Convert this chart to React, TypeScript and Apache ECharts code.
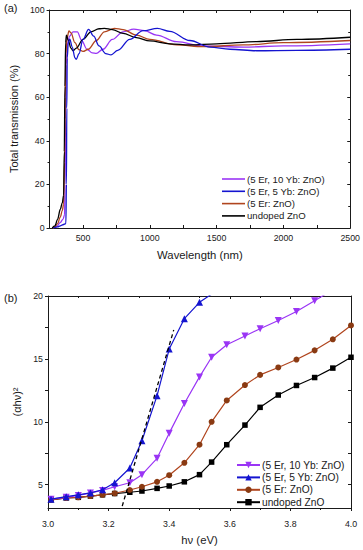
import React, { useEffect, useRef } from "react";
import * as echarts from "echarts";

const FONT = "'Liberation Sans', Arial, sans-serif";
const INK = "#1a1a1a";

const seriesNames = ["(5 Er, 10 Yb: ZnO)", "(5 Er, 5 Yb: ZnO)", "(5 Er: ZnO)", "undoped ZnO"];

// ---------- Panel (a): total transmission vs wavelength ----------
const wlUndoped = [270, 290, 310, 330, 345, 355, 360, 365, 370, 376, 390, 410, 426, 450, 500, 560, 620, 660, 720, 800, 900, 1000, 1150, 1300, 1500, 1800, 2100, 2500];
const tUndoped = [0, 1, 4, 8.5, 11.5, 15, 35, 65, 85, 88.5, 86, 82.5, 81.3, 82.5, 86.5, 90, 91.4, 91.6, 91, 89.3, 87.3, 85.8, 84.5, 84, 84.5, 85.5, 86.5, 87.5];

const wlEr = [270, 290, 310, 330, 345, 355, 362, 367, 372, 380, 395, 410, 440, 470, 500, 540, 600, 660, 735, 800, 900, 1000, 1200, 1400, 1700, 2000, 2500];
const tEr = [0, 0.5, 2, 5, 8, 11, 30, 60, 80, 87, 90.4, 89.5, 85, 81.8, 81, 82, 86, 90, 91.6, 91, 88.5, 86.5, 84, 83.2, 84, 85, 86];

const wlEr10Yb = [275, 300, 330, 350, 362, 366, 370, 375, 385, 400, 425, 458, 490, 530, 570, 600, 650, 720, 800, 880, 960, 1050, 1200, 1400, 1700, 2000, 2500];
const tEr10Yb = [0, 0.5, 2.5, 4, 6, 20, 50, 75, 85, 88, 90, 90, 86, 82, 80.3, 80.1, 82, 86.5, 90, 91.2, 90.5, 88.5, 85.5, 83.5, 83, 83.5, 84.5];

const wlEr5Yb = [280, 310, 330, 350, 372, 376, 379, 382, 390, 401, 420, 440, 450, 470, 500, 542, 580, 620, 670, 710, 760, 850, 950, 1057, 1150, 1300, 1450, 1600, 1800, 2100, 2500];
const tEr5Yb = [0, 0.5, 1, 1.5, 2, 20, 55, 78, 85, 86.6, 83, 78, 77.4, 80, 86.5, 91.1, 88, 83.5, 80, 79.4, 81.5, 86.5, 90.5, 91.6, 90.2, 86, 83, 82, 81.3, 81.5, 82];

const xTicksA = [500, 1000, 1500, 2000, 2500];

// ---------- Panel (b): (alpha h nu)^2 vs photon energy ----------
const hv = [3.01, 3.06, 3.10, 3.14, 3.18, 3.22, 3.27, 3.31, 3.36, 3.40, 3.45, 3.50, 3.54, 3.59, 3.65, 3.70, 3.76, 3.82, 3.88, 3.94, 4.00];
const aEr10Yb = [3.85, 4.0, 4.15, 4.35, 4.55, 4.84, 5.16, 5.8, 7.1, 9.1, 11.45, 13.57, 15.13, 16.12, 16.82, 17.4, 18.05, 18.77, 19.63, 20.5, 21.3];
const aEr5Yb = [3.85, 4.05, 4.2, 4.35, 4.6, 5.16, 6.33, 8.5, 12.08, 15.78, 18.2, 19.5, 20.15, 20.5, 20.9, 21.3, 21.6, 21.9, 22.2, 22.5, 22.8];
const aEr = [3.8, 3.95, 4.0, 4.1, 4.2, 4.32, 4.58, 4.84, 5.23, 5.76, 6.74, 8.18, 10.0, 11.7, 12.92, 13.73, 14.32, 14.95, 15.68, 16.56, 17.66];
const aUndoped = [3.8, 3.95, 4.0, 4.1, 4.2, 4.3, 4.4, 4.5, 4.71, 4.9, 5.23, 5.8, 6.8, 8.18, 9.74, 11.15, 12.13, 12.89, 13.52, 14.27, 15.13];

const fitX = [3.245, 3.415];
const fitY = [3.3, 17.3];

const yLabelsB = [5, 10, 15, 20];
const yTicksB = [5, 7.5, 10, 12.5, 15, 17.5, 20];

const COLORS = {
  er10yb: "#9a35f5",
  er5yb: "#1414d0",
  er: "#b0451e",
  erMarker: "#8a3a12",
  undoped: "#000000",
};

const zip = (xs: number[], ys: number[]) => xs.map((x, i) => [x, ys[i]]);

function axisCommon() {
  return {
    axisLine: { show: true, onZero: false, lineStyle: { color: INK, width: 1 } },
    splitLine: { show: false },
  };
}

function buildA() {
  const lineSeries = (name: string, xs: number[], ys: number[], color: string, z: number) => ({
    type: "line",
    name,
    data: zip(xs, ys),
    smooth: 0.35,
    smoothMonotone: "x",
    showSymbol: false,
    symbol: "none",
    z,
    lineStyle: { color, width: 1.3 },
    itemStyle: { color },
  });
  return {
    animation: false,
    textStyle: { fontFamily: FONT },
    grid: { left: 48, right: 12, top: 10, bottom: 42 },
    graphic: [
      { type: "text", left: 4, top: 2, style: { text: "(a)", fontSize: 11, fill: INK, fontFamily: FONT } },
    ],
    legend: {
      orient: "vertical",
      left: 222,
      top: 173,
      padding: 0,
      icon: "rect",
      itemWidth: 23,
      itemHeight: 1.6,
      itemGap: 0.3,
      data: seriesNames,
      textStyle: { fontSize: 9.6, color: INK, lineHeight: 12, padding: [0, 0, 0, -3] },
    },
    xAxis: [
      {
        type: "value",
        min: 250,
        max: 2500,
        interval: 250,
        name: "Wavelength (nm)",
        nameLocation: "middle",
        nameGap: 21,
        nameTextStyle: { fontSize: 11.3, color: INK },
        ...axisCommon(),
        axisTick: { show: true, inside: true, length: 3, lineStyle: { color: INK } },
        axisLabel: {
          fontSize: 8.8,
          color: INK,
          margin: 5,
          formatter: (v: number) => (xTicksA.includes(v) ? String(v) : ""),
        },
      },
      {
        type: "value",
        position: "top",
        min: 250,
        max: 2500,
        interval: 250,
        ...axisCommon(),
        axisTick: { show: true, inside: true, length: 3, lineStyle: { color: INK } },
        axisLabel: { show: false },
      },
    ],
    yAxis: [
      {
        type: "value",
        min: 0,
        max: 100,
        interval: 20,
        name: "Total transmission (%)",
        nameLocation: "middle",
        nameGap: 16,
        nameTextStyle: { fontSize: 11, color: INK },
        ...axisCommon(),
        axisTick: { show: true, inside: false, length: 3, lineStyle: { color: INK } },
        minorTick: { show: true, splitNumber: 2, length: 2, lineStyle: { color: INK } },
        axisLabel: { fontSize: 8.8, color: INK, margin: 5 },
      },
      {
        type: "value",
        position: "right",
        min: 0,
        max: 100,
        interval: 20,
        ...axisCommon(),
        axisTick: { show: true, inside: true, length: 3, lineStyle: { color: INK } },
        minorTick: { show: true, splitNumber: 2, length: 2, lineStyle: { color: INK } },
        axisLabel: { show: false },
      },
    ],
    series: [
      lineSeries(seriesNames[3], wlUndoped, tUndoped, COLORS.undoped, 4),
      lineSeries(seriesNames[2], wlEr, tEr, COLORS.er, 3),
      lineSeries(seriesNames[0], wlEr10Yb, tEr10Yb, COLORS.er10yb, 2),
      lineSeries(seriesNames[1], wlEr5Yb, tEr5Yb, COLORS.er5yb, 5),
    ],
  };
}

function buildB() {
  const markerSeries = (
    name: string,
    ys: number[],
    color: string,
    markColor: string,
    symbol: string,
    size: number,
    rotate: number,
    z: number
  ) => ({
    type: "line",
    name,
    data: zip(hv, ys),
    symbol,
    symbolSize: size,
    symbolRotate: rotate,
    showSymbol: true,
    clip: true,
    z,
    lineStyle: { color, width: 1.2 },
    itemStyle: { color: markColor, borderWidth: 0 },
  });
  return {
    animation: false,
    textStyle: { fontFamily: FONT },
    grid: { left: 48, right: 12, top: 26, bottom: 38 },
    graphic: [
      { type: "text", left: 4, top: 22, style: { text: "(b)", fontSize: 11, fill: INK, fontFamily: FONT } },
    ],
    legend: {
      orient: "vertical",
      left: 236,
      top: 189,
      padding: 0,
      itemWidth: 23,
      itemHeight: 8,
      itemGap: 0.4,
      data: seriesNames,
      textStyle: { fontSize: 10.2, color: INK, lineHeight: 12, padding: [0, 0, 0, -3] },
    },
    xAxis: [
      {
        type: "value",
        min: 3.0,
        max: 4.0,
        interval: 0.2,
        name: "hν (eV)",
        nameLocation: "middle",
        nameGap: 26,
        nameTextStyle: { fontSize: 11.3, color: INK },
        ...axisCommon(),
        axisTick: { show: true, inside: false, length: 3, lineStyle: { color: INK } },
        minorTick: { show: true, splitNumber: 2, length: 2, lineStyle: { color: INK } },
        axisLabel: { fontSize: 8.8, color: INK, margin: 11, formatter: (v: number) => v.toFixed(1) },
      },
      {
        type: "value",
        position: "top",
        min: 3.0,
        max: 4.0,
        interval: 0.2,
        ...axisCommon(),
        axisTick: { show: true, inside: true, length: 3, lineStyle: { color: INK } },
        minorTick: { show: true, splitNumber: 2, length: 2, lineStyle: { color: INK } },
        axisLabel: { show: false },
      },
    ],
    yAxis: [
      {
        type: "value",
        min: 3.15,
        max: 20,
        name: "(αhν)²",
        nameLocation: "middle",
        nameGap: 20,
        nameTextStyle: { fontSize: 11, color: INK },
        ...axisCommon(),
        axisTick: { show: true, inside: false, length: 3, customValues: yTicksB, lineStyle: { color: INK } },
        axisLabel: { fontSize: 8.8, color: INK, margin: 5, customValues: yLabelsB },
      },
      {
        type: "value",
        position: "right",
        min: 3.15,
        max: 20,
        ...axisCommon(),
        axisTick: { show: true, inside: true, length: 3, customValues: yTicksB, lineStyle: { color: INK } },
        axisLabel: { show: false },
      },
    ],
    series: [
      markerSeries(seriesNames[3], aUndoped, COLORS.undoped, COLORS.undoped, "rect", 5.5, 0, 3),
      markerSeries(seriesNames[2], aEr, COLORS.er, COLORS.erMarker, "circle", 6, 0, 4),
      markerSeries(seriesNames[0], aEr10Yb, COLORS.er10yb, COLORS.er10yb, "triangle", 7, 180, 5),
      markerSeries(seriesNames[1], aEr5Yb, COLORS.er5yb, COLORS.er5yb, "triangle", 7, 0, 6),
      {
        type: "line",
        name: "fit",
        data: zip(fitX, fitY),
        showSymbol: false,
        symbol: "none",
        z: 7,
        lineStyle: { color: "#000", width: 1.3, type: [4, 3] },
      },
    ],
  };
}

function Panel({ top, height, build }: { top: number; height: number; build: () => any }) {
  const ref = useRef<HTMLDivElement>(null);
  useEffect(() => {
    if (!ref.current) return;
    const chart = echarts.init(ref.current, undefined, { renderer: "svg" });
    chart.setOption(build());
    return () => chart.dispose();
  }, [build]);
  return <div ref={ref} style={{ position: "absolute", left: 0, top, width: 363, height }} />;
}

export default function App() {
  return (
    <div style={{ position: "fixed", left: 0, top: 0, width: 363, height: 550, background: "#fff", overflow: "hidden" }}>
      <Panel top={0} height={270} build={buildA} />
      <Panel top={270} height={280} build={buildB} />
    </div>
  );
}
